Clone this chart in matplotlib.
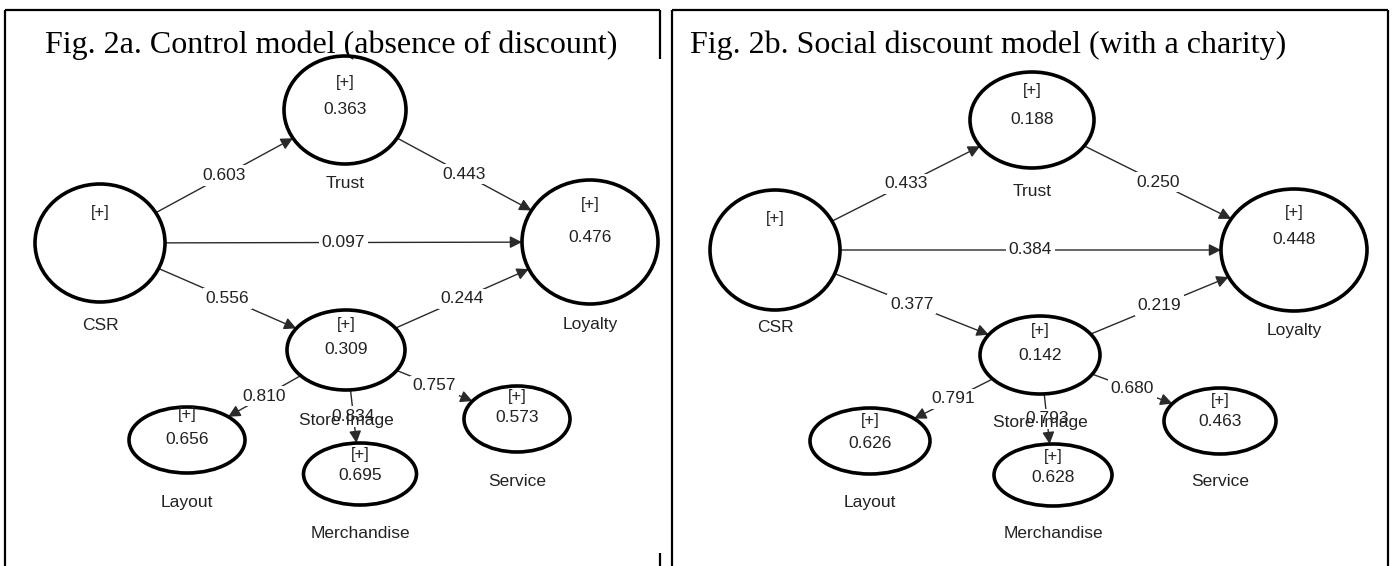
import matplotlib
matplotlib.use("Agg")
import matplotlib.pyplot as plt
from matplotlib.patches import Ellipse
import numpy as np

# --- data ---
panel_titles = ["Fig. 2a. Control model (absence of discount)",
                "Fig. 2b. Social discount model (with a charity)"]
nodes = ["CSR", "Trust", "Loyalty", "Store Image", "Layout", "Merchandise", "Service"]
r2_a = [None, 0.363, 0.476, 0.309, 0.656, 0.695, 0.573]
r2_b = [None, 0.188, 0.448, 0.142, 0.626, 0.628, 0.463]
paths = [("CSR", "Trust"), ("Trust", "Loyalty"), ("CSR", "Loyalty"),
         ("CSR", "Store Image"), ("Store Image", "Loyalty"),
         ("Store Image", "Layout"), ("Store Image", "Merchandise"),
         ("Store Image", "Service")]
coef_a = [0.603, 0.443, 0.097, 0.556, 0.244, 0.810, 0.834, 0.757]
coef_b = [0.433, 0.250, 0.384, 0.377, 0.219, 0.791, 0.793, 0.680]

# layout in pixels: cx, cy, width, height, [+] dy, value dy, name y
layout_a = {
    "CSR":         (100, 243, 130, 118, -31, 0, 325),
    "Trust":       (345, 110, 122, 108, -28, 0, 184),
    "Loyalty":     (590, 242, 136, 124, -37, -5, 325),
    "Store Image": (346, 350, 118, 80, -26, 0, 420),
    "Layout":      (187, 440, 116, 66, -25, -1, 502),
    "Merchandise": (360, 474, 113, 62, -19, 2, 533),
    "Service":     (517, 419, 106, 66, -23, -1, 481),
}
layout_b = {
    "CSR":         (775, 250, 130, 120, -32, 0, 327),
    "Trust":       (1032, 120, 124, 96, -29, 0, 192),
    "Loyalty":     (1294, 250, 146, 122, -38, -10, 330),
    "Store Image": (1040, 355, 120, 78, -25, 0, 422),
    "Layout":      (870, 441, 120, 66, -21, 3, 503),
    "Merchandise": (1053, 475, 118, 62, -18, 3, 534),
    "Service":     (1220, 421, 112, 66, -21, 0, 482),
}

W, H = 1394, 566
fig = plt.figure(figsize=(W / 100, H / 100), dpi=100)
ax = fig.add_axes([0, 0, 1, 1])
ax.set_xlim(0, W)
ax.set_ylim(H, 0)
ax.axis("off")

node_font = ["Liberation Sans", "DejaVu Sans"]
txt_col = "#222222"
line_col = "#2a2a2a"


def edge_point(c, d, a, b):
    t = 1.0 / np.sqrt((d[0] / a) ** 2 + (d[1] / b) ** 2)
    return c[0] + t * d[0], c[1] + t * d[1]


def draw_panel(layout, r2, coefs):
    for name, val in zip(nodes, r2):
        cx, cy, w, h, pdy, vdy, ny = layout[name]
        ax.add_patch(Ellipse((cx, cy), w, h, fill=False, lw=2.6,
                             edgecolor="black", zorder=2))
        ax.text(cx, cy + pdy, "[+]", ha="center", va="center", fontsize=12,
                family=node_font, color=txt_col, zorder=5)
        if val is not None:
            ax.text(cx, cy + vdy, f"{val:.3f}", ha="center", va="center",
                    fontsize=12.5, family=node_font, color=txt_col, zorder=5)
        ax.text(cx, ny, name, ha="center", va="center", fontsize=12.5,
                family=node_font, color=txt_col, zorder=5)

    for (src, dst), c in zip(paths, coefs):
        s = layout[src]
        t = layout[dst]
        d = np.array([t[0] - s[0], t[1] - s[1]], dtype=float)
        d /= np.hypot(*d)
        p0 = edge_point(s, d, s[2] / 2, s[3] / 2)
        p1 = edge_point(t, -d, t[2] / 2, t[3] / 2)
        ax.annotate("", xy=p1, xytext=p0,
                    arrowprops=dict(arrowstyle="-|>", color=line_col, lw=1.0,
                                    mutation_scale=18, shrinkA=0, shrinkB=0),
                    zorder=1)
        mx, my = (p0[0] + p1[0]) / 2, (p0[1] + p1[1]) / 2
        ax.text(mx, my, f"{c:.3f}", ha="center", va="center", fontsize=12.5,
                family=node_font, color=txt_col, zorder=3,
                bbox=dict(boxstyle="square,pad=0.15", fc="white", ec="none"))


draw_panel(layout_a, r2_a, coef_a)
draw_panel(layout_b, r2_b, coef_b)

# frames around the two figures
fk = dict(color="black", lw=1.6, solid_capstyle="butt")
ax.plot([5, 5], [10, H], **fk)
ax.plot([5, 660], [10, 10], **fk)
ax.plot([660, 660], [10, 59], **fk)
ax.plot([660, 660], [553, H], **fk)
ax.plot([672, 672], [10, H], **fk)
ax.plot([672, 1388], [10, 10], **fk)
ax.plot([1388, 1388], [10, H], **fk)

ax.text(45, 45, panel_titles[0], ha="left", va="center", fontsize=23,
        family="Liberation Serif")
ax.text(690, 45, panel_titles[1], ha="left", va="center", fontsize=23,
        family="Liberation Serif")

fig.savefig("out.png", dpi=100)
